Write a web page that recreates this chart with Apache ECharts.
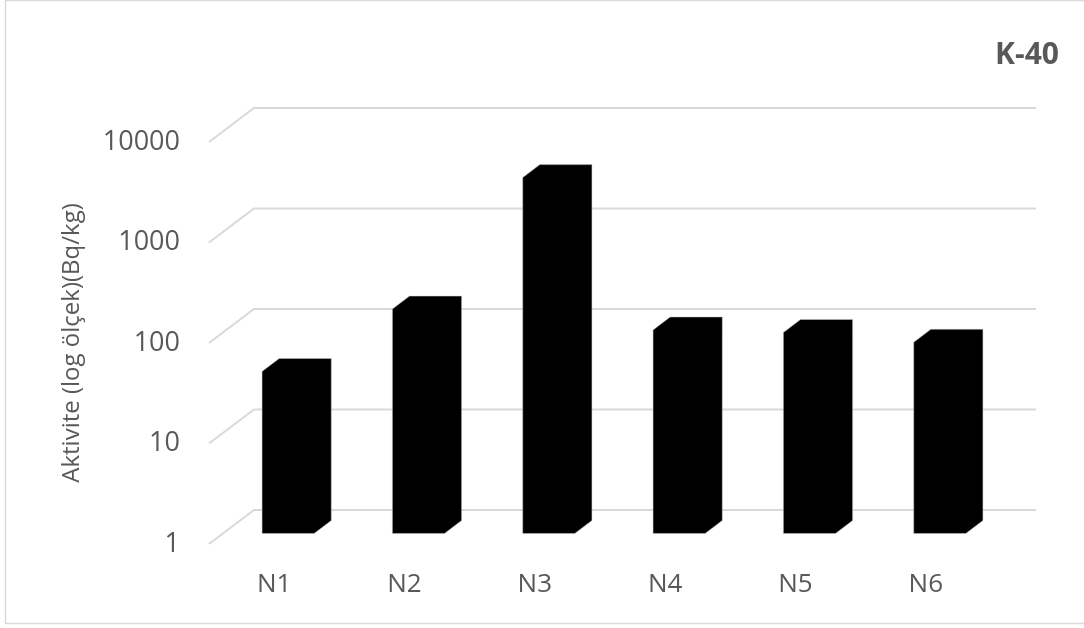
<!DOCTYPE html>
<html>
<head>
<meta charset="utf-8">
<title>K-40</title>
<script src="https://cdn.jsdelivr.net/npm/echarts@6/dist/echarts.min.js"></script>
<style>
    html, body { margin: 0; padding: 0; background: #fff; }
    #chart { width: 1084px; height: 628px; }
</style>
</head>
<body>
<div id="chart"></div>
<script>
var categories = ['N1', 'N2', 'N3', 'N4', 'N5', 'N6'];
var k40Values = [41, 171, 3480, 106, 100, 80];
var yTicks = [1, 10, 100, 1000, 10000];

(function(){
    var DX = 45, DY = -34;       // derinlik vektoru (on duzlem -> arka duvar)
    var FRONT = 0.31, BACK = 0.69; // cubugun derinlikteki yeri
    var textColor = '#595959';
    var gridColor = '#d9d9d9';
    var font = 'Open Sans';

    var myChart = echarts.init(document.getElementById('chart'));

    var option = {
        backgroundColor: '#ffffff',
        animation: false,
        title: {
            text: 'K-40',
            right: 20,
            top: 35,
            textStyle: {
                fontFamily: font,
                fontSize: 30,
                fontWeight: 'bold',
                color: textColor
            }
        },
        grid: {
            left: 209,
            right: 93,
            top: 142,
            bottom: 84
        },
        xAxis: {
            type: 'category',
            data: categories,
            axisLine: { show: false },
            axisTick: { show: false },
            axisLabel: {
                margin: 28,
                fontFamily: font,
                fontSize: 26,
                color: textColor
            }
        },
        yAxis: {
            type: 'log',
            logBase: 10,
            min: 1,
            max: 10000,
            name: 'Aktivite (log ölçek)(Bq/kg)',
            nameLocation: 'middle',
            nameRotate: 90,
            nameGap: 125,
            nameTextStyle: {
                fontFamily: font,
                fontSize: 24,
                color: textColor
            },
            axisLine: { show: false },
            axisTick: { show: false },
            splitLine: { show: false },
            axisLabel: {
                margin: 29,
                fontFamily: font,
                fontSize: 27,
                color: textColor,
                formatter: function(v){ return String(v); }
            }
        },
        graphic: [{
            type: 'rect',
            shape: { x: 5.5, y: 0.5, width: 1100, height: 623 },
            style: { fill: 'none', stroke: gridColor, lineWidth: 1.5 },
            silent: true
        }],
        series: [
            {
                // arka duvardaki kilavuz cizgileri
                type: 'custom',
                z: 1,
                silent: true,
                data: yTicks.map(function(v){ return [0, v]; }),
                encode: { x: 0, y: 1 },
                renderItem: function(params, api){
                    var cs = params.coordSys;
                    var y = api.coord([0, api.value(1)])[1];
                    return {
                        type: 'polyline',
                        shape: {
                            points: [
                                [cs.x, y],
                                [cs.x + DX, y + DY],
                                [cs.x + DX + cs.width, y + DY]
                            ]
                        },
                        style: { fill: null, stroke: gridColor, lineWidth: 2 }
                    };
                }
            },
            {
                // 3B gorunumlu cubuklar
                type: 'custom',
                z: 2,
                data: k40Values.map(function(v, i){ return [i, v]; }),
                encode: { x: 0, y: 1 },
                renderItem: function(params, api){
                    var top = api.coord([api.value(0), api.value(1)]);
                    var base = api.coord([api.value(0), 1]);
                    var band = api.size([1, 0])[0];
                    var hw = band * 0.2;
                    var fx0 = top[0] - hw + FRONT * DX;
                    var fx1 = top[0] + hw + FRONT * DX;
                    var fyT = top[1] + FRONT * DY;
                    var fyB = base[1] + FRONT * DY;
                    var sx = (BACK - FRONT) * DX;
                    var sy = (BACK - FRONT) * DY;
                    return {
                        type: 'polygon',
                        shape: {
                            points: [
                                [fx0, fyT],
                                [fx0 + sx, fyT + sy],
                                [fx1 + sx, fyT + sy],
                                [fx1 + sx, fyB + sy],
                                [fx1, fyB],
                                [fx0, fyB]
                            ]
                        },
                        style: { fill: '#000000', stroke: '#c8c8c8', lineWidth: 0.5 }
                    };
                }
            }
        ]
    };

    myChart.setOption(option);
})();
</script>
</body>
</html>
